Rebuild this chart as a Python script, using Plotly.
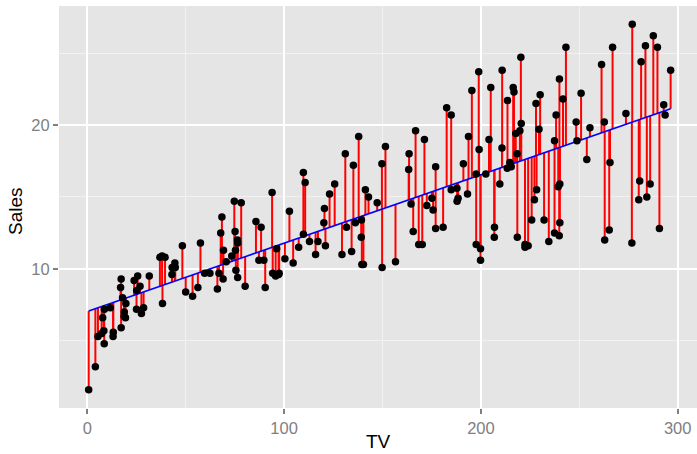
import numpy as np
import plotly.graph_objects as go

tv = [230.1, 44.5, 17.2, 151.5, 180.8, 8.7, 57.5, 120.2, 8.6, 199.8,
      66.1, 214.7, 23.8, 97.5, 204.1, 195.4, 67.8, 281.4, 69.2, 147.3,
      218.4, 237.4, 13.2, 228.3, 62.3, 262.9, 142.9, 240.1, 248.8, 70.6,
      292.9, 112.9, 97.2, 265.6, 95.7, 290.7, 266.9, 74.7, 43.1, 228.0,
      202.5, 177.0, 293.6, 206.9, 25.1, 175.1, 89.7, 239.9, 227.2, 66.9,
      199.8, 100.4, 216.4, 182.6, 262.7, 198.9, 7.3, 136.2, 210.8, 210.7,
      53.5, 261.3, 239.3, 102.7, 131.1, 69.0, 31.5, 139.3, 237.4, 216.8,
      199.1, 109.8, 26.8, 129.4, 213.4, 16.9, 27.5, 120.5, 5.4, 116.0,
      76.4, 239.8, 75.3, 68.4, 213.5, 193.2, 76.3, 110.7, 88.3, 109.8,
      134.3, 28.6, 217.7, 250.9, 107.4, 163.3, 197.6, 184.9, 289.7, 135.2,
      222.4, 296.4, 280.2, 187.9, 238.2, 137.9, 25.0, 90.4, 13.1, 255.4,
      225.8, 241.7, 175.7, 209.6, 78.2, 75.1, 139.2, 76.4, 125.7, 19.4,
      141.3, 18.8, 224.0, 123.1, 229.5, 87.2, 7.8, 80.2, 220.3, 59.6,
      0.7, 265.2, 8.4, 219.8, 36.9, 48.3, 25.6, 273.7, 43.0, 184.9,
      73.4, 193.7, 220.5, 104.6, 96.2, 140.3, 240.1, 243.2, 38.0, 44.7,
      280.7, 121.0, 197.6, 171.3, 187.8, 4.1, 93.9, 149.8, 11.7, 131.7,
      172.5, 85.7, 188.4, 163.5, 117.2, 234.5, 17.9, 206.8, 215.4, 284.3,
      50.0, 164.5, 19.6, 168.4, 222.4, 276.9, 248.4, 170.2, 276.7, 165.6,
      156.6, 218.5, 56.2, 287.6, 253.8, 205.0, 139.5, 191.1, 286.0, 18.7,
      39.5, 75.5, 17.2, 166.8, 149.7, 38.2, 94.2, 177.0, 283.6, 232.1]

sales = [22.1, 10.4, 9.3, 18.5, 12.9, 7.2, 11.8, 13.2, 4.8, 10.6,
         8.6, 17.4, 9.2, 9.7, 19.0, 22.4, 12.5, 24.4, 11.3, 14.6,
         18.0, 12.5, 5.6, 15.5, 9.7, 12.0, 15.0, 15.9, 18.9, 10.5,
         21.4, 11.9, 9.6, 17.4, 9.5, 12.8, 25.4, 14.7, 10.1, 21.5,
         16.6, 17.1, 20.7, 12.9, 8.5, 14.9, 10.6, 23.2, 14.8, 9.7,
         11.4, 10.7, 22.6, 21.2, 20.2, 23.7, 5.5, 13.2, 23.8, 18.4,
         8.1, 24.2, 15.7, 14.0, 18.0, 9.3, 9.5, 13.4, 18.9, 22.3,
         18.3, 12.4, 8.8, 11.0, 17.0, 8.7, 6.9, 14.2, 5.3, 11.0,
         11.8, 12.3, 11.3, 13.6, 21.7, 15.2, 12.0, 16.0, 12.9, 16.7,
         11.2, 7.3, 19.4, 22.2, 11.5, 16.9, 11.7, 15.5, 25.4, 17.2,
         11.7, 23.8, 14.8, 14.7, 20.7, 19.2, 7.2, 8.7, 5.3, 19.8,
         13.4, 21.8, 14.1, 15.9, 14.6, 12.6, 12.2, 9.4, 15.9, 6.6,
         15.5, 7.0, 11.6, 15.2, 19.7, 10.6, 6.6, 8.8, 24.7, 9.7,
         1.6, 12.7, 5.7, 19.6, 10.8, 11.6, 9.5, 20.8, 9.6, 20.7,
         10.9, 19.2, 20.1, 10.4, 11.4, 10.3, 13.2, 25.4, 10.9, 10.1,
         16.1, 11.6, 16.6, 19.0, 15.6, 3.2, 15.3, 10.1, 7.3, 12.9,
         14.4, 13.3, 14.9, 18.0, 11.9, 11.9, 8.0, 12.2, 17.1, 15.0,
         8.4, 14.5, 7.6, 11.7, 11.5, 27.0, 20.2, 11.7, 11.8, 12.6,
         10.5, 12.2, 8.7, 26.2, 17.6, 22.6, 10.3, 17.3, 15.9, 6.7,
         10.8, 9.9, 5.9, 19.6, 17.3, 7.6, 9.7, 12.8, 25.5, 13.4]

x_ticks = [0, 100, 200, 300]
y_ticks = [10, 20]

x = np.array(tv)
y = np.array(sales)
slope, intercept = np.polyfit(x, y, 1)
yhat = intercept + slope * x

seg_x, seg_y = [], []
for xi, yi, fi in zip(x, y, yhat):
    seg_x += [xi, xi, None]
    seg_y += [yi, fi, None]

order = np.argsort(x)

fig = go.Figure()
fig.add_trace(go.Scatter(x=seg_x, y=seg_y, mode="lines",
                         line=dict(color="#FF0000", width=2), hoverinfo="skip"))
fig.add_trace(go.Scatter(x=x[order], y=yhat[order], mode="lines",
                         line=dict(color="#0000FF", width=1.6)))
fig.add_trace(go.Scatter(x=x, y=y, mode="markers",
                         marker=dict(color="black", size=7.5, line=dict(width=0))))

FONT = "Liberation Sans, Arial, sans-serif"
axis_font = dict(family=FONT, size=16.5, color="#7F7F7F")
title_font = dict(family=FONT, size=19, color="black")

fig.update_layout(
    width=697, height=454,
    margin=dict(l=59, r=0, t=6, b=46, autoexpand=False),
    paper_bgcolor="white",
    plot_bgcolor="#E5E5E5",
    showlegend=False,
    font=dict(family=FONT),
    annotations=[
        dict(text="TV", xref="paper", yref="paper", x=0.5, y=-0.113,
             xanchor="center", yanchor="bottom", showarrow=False,
             borderpad=0, font=title_font),
        dict(text="Sales", xref="paper", yref="paper", x=-0.069, y=0.49,
             xanchor="center", yanchor="middle", textangle=-90,
             showarrow=False, font=title_font),
    ],
)
fig.update_xaxes(
    range=[-14.38, 309.8], tickvals=x_ticks, ticktext=[str(t) for t in x_ticks],
    showgrid=True, gridcolor="white", gridwidth=2,
    minor=dict(tickvals=[50, 150, 250], showgrid=True, gridcolor="#F2F2F2", gridwidth=1, ticks=""),
    zeroline=False, showline=False, automargin=False,
    ticks="outside", ticklen=5, tickwidth=1.5, tickcolor="#7F7F7F",
    tickfont=axis_font,
)
fig.update_yaxes(
    range=[0.33, 28.27], tickvals=y_ticks, ticktext=[str(t) for t in y_ticks],
    showgrid=True, gridcolor="white", gridwidth=2,
    minor=dict(tickvals=[5, 15, 25], showgrid=True, gridcolor="#F2F2F2", gridwidth=1, ticks=""),
    zeroline=False, showline=False, automargin=False,
    ticks="outside", ticklen=5, tickwidth=1.5, tickcolor="#7F7F7F",
    tickfont=axis_font,
)

fig.write_html("out.html")
